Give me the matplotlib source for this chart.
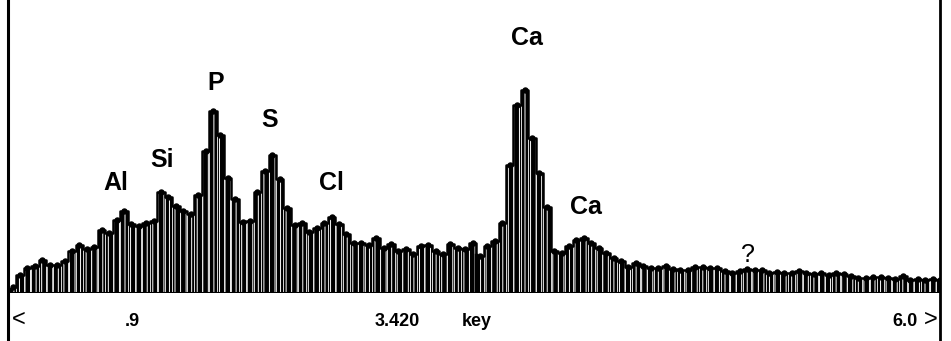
#EDS spectrum recreated with matplotlib

import numpy as np
import matplotlib
matplotlib.use('Agg')
import matplotlib.pyplot as plt
from matplotlib.lines import Line2D

plt.rcParams['font.family'] = ['Liberation Sans', 'DejaVu Sans']
plt.rcParams['hatch.linewidth'] = 0.7

#spectrum: channel energies (keV) and counts
e_start = 0.92
e_step = 0.04
counts = [
    6, 18, 25, 27, 33, 28, 28, 32, 42, 48,
    44, 46, 63, 60, 73, 82, 69, 67, 70, 72,
    101, 96, 87, 82, 79, 98, 142, 182, 158, 115,
    94, 71, 72, 101, 122, 138, 114, 85, 68, 70,
    61, 65, 70, 76, 69, 59, 50, 50, 48, 55,
    45, 49, 42, 44, 39, 47, 48, 42, 39, 49,
    45, 44, 50, 37, 47, 52, 70, 128, 188, 203,
    155, 120, 86, 42, 40, 47, 53, 55, 50, 45,
    40, 35, 32, 26, 30, 27, 25, 25, 27, 24,
    23, 23, 26, 26, 25, 25, 22, 20, 22, 24,
    23, 23, 20, 21, 20, 20, 22, 20, 19, 20,
    18, 20, 19, 17, 15, 15, 16, 16, 15, 14,
    17, 13, 14, 13, 14, 13,
]
energy = e_start + e_step*np.arange(len(counts))

#peak labels: (text, energy, height)
peak_names = ['Al', 'Si', 'P', 'S', 'Cl', 'Ca', 'Ca']
peak_e = [1.477, 1.725, 2.016, 2.307, 2.641, 3.693, 4.011]
peak_y = [110, 133, 210, 173, 110, 255, 86]

cursor_e = 3.42
e_min, e_max = 0.895, 5.92

fig = plt.figure(figsize=(9.51, 3.41), dpi=100)
ax = fig.add_axes([8/951, 48/341, 932/951, 293/341])
ax.set_xlim(e_min, e_max)
ax.set_ylim(0, 293)
ax.axis('off')

#bars with white vertical streaks
ax.bar(energy, counts, width=e_step, color='black', edgecolor='white',
       linewidth=0.5, hatch='|||', zorder=2)
ax.step(energy, counts, where='mid', color='black', lw=1.8, zorder=3)
ax.plot(energy, counts, 'o', ms=3.6, color='black', zorder=4)

#baseline and cursor
ax.axhline(0, color='black', lw=2.2, zorder=5)
ax.plot([cursor_e, cursor_e], [0, 38], color='black', lw=2.5, zorder=5)

for name, e, y in zip(peak_names, peak_e, peak_y):
    ax.text(e, y, name, ha='center', va='center', fontsize=18,
            fontweight='bold')
ax.text(4.884, 38, '?', ha='center', va='center', fontsize=18,
        fontweight='light')

#frame lines left and right
fig.add_artist(Line2D([8/951, 8/951], [0, 1], color='black', lw=2.2))
fig.add_artist(Line2D([940/951, 940/951], [0, 1], color='black', lw=2.0))

#bottom readout
bottom = [('.9', 132), ('3.420', 397), ('key', 477), ('6.0', 905)]
for txt, px in bottom:
    fig.text(px/951, 1 - 322/341, txt, ha='center', va='center',
             fontsize=13, fontweight='bold')
fig.text(19/951, 1 - 320/341, '<', ha='center', va='center', fontsize=17)
fig.text(931/951, 1 - 320/341, '>', ha='center', va='center', fontsize=17)

plt.savefig('out.png', dpi=100)
